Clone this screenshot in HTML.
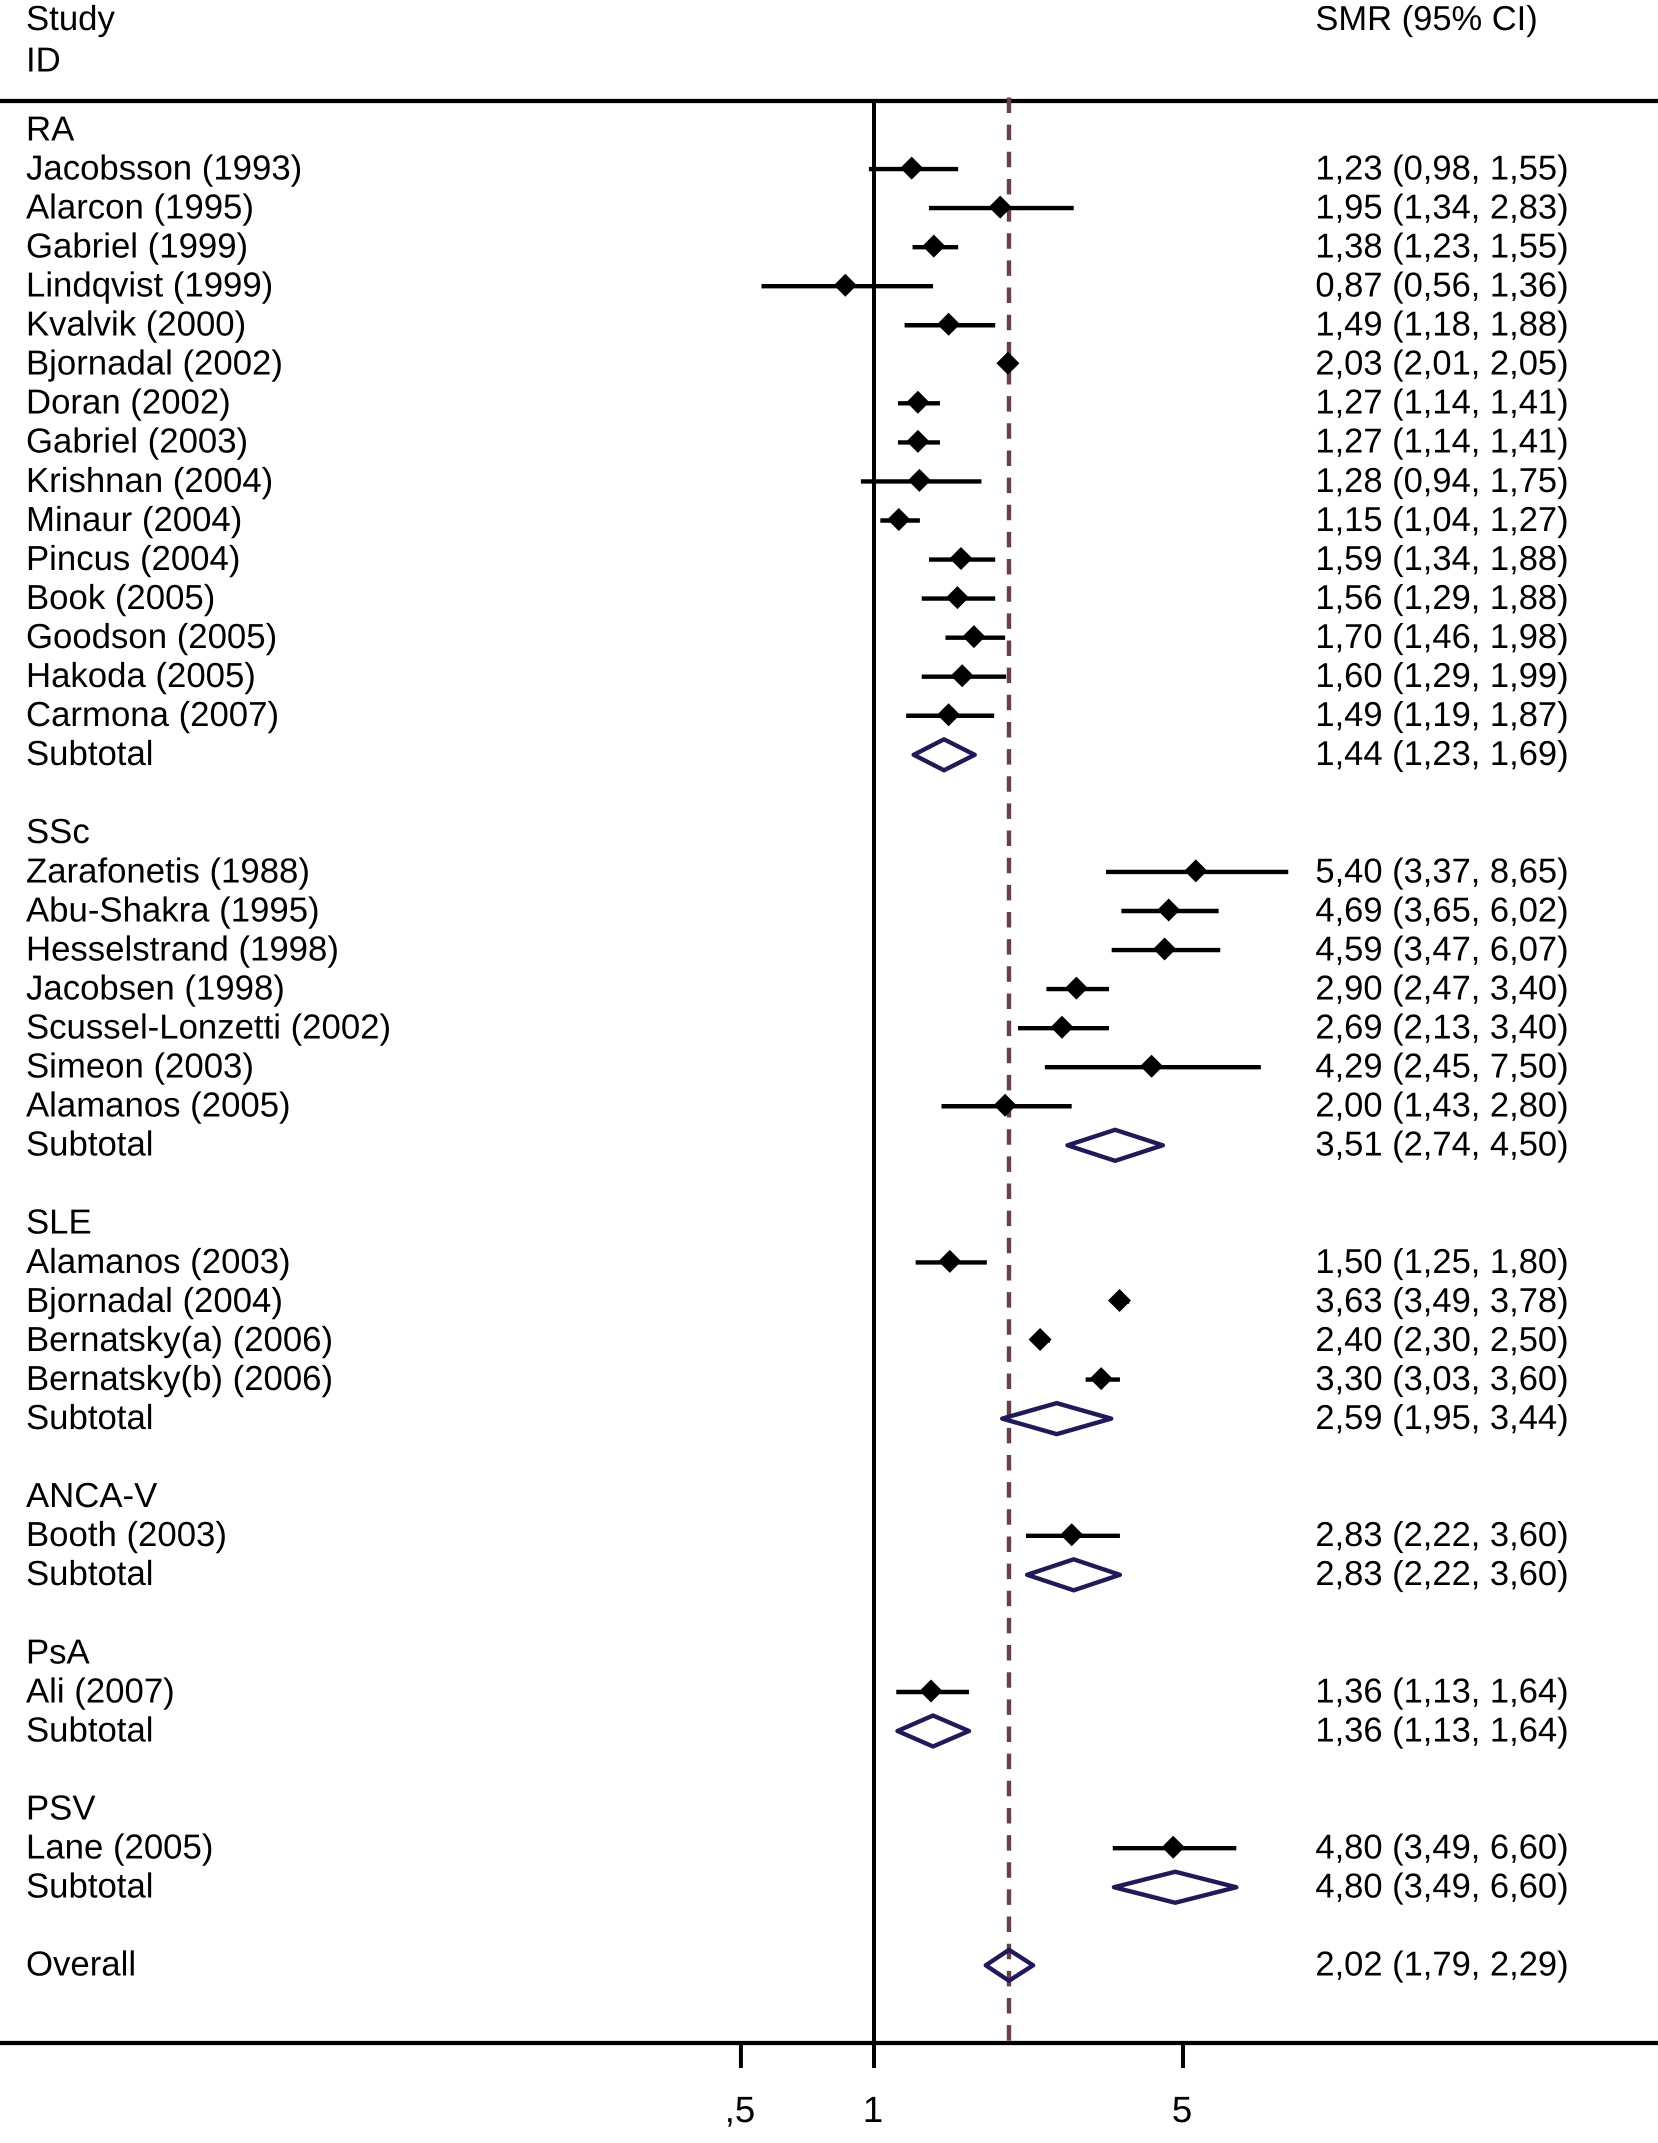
<!DOCTYPE html>
<html lang="en">
<head>
<meta charset="utf-8">
<title>Forest plot of SMR by disease group</title>
<style>
html,body{margin:0;padding:0;background:#fff;}
svg{display:block;}
text{font-family:"Liberation Sans",Arial,Helvetica,sans-serif;font-size:34.5px;fill:#000;text-rendering:geometricPrecision;}
text.left{font-size:34.75px;}
text.tick{font-size:36.5px;}
</style>
</head>
<body>
<svg id="chart" xmlns="http://www.w3.org/2000/svg" width="1658" height="2143" viewBox="0 0 1658 2143">
  <rect x="0" y="0" width="1658" height="2143" fill="#ffffff"/>
  <text class="left" x="26" y="30">Study</text>
  <text class="left" x="26" y="71.5">ID</text>
  <text x="1315.4" y="30">SMR (95% CI)</text>
  <line x1="0" x2="1658" y1="101" y2="101" stroke="#000" stroke-width="4.2"/>
  <line x1="0" x2="1658" y1="2043" y2="2043" stroke="#000" stroke-width="4.2"/>
  <g id="marks"></g>
</svg>
<script>
const groupNames = ['RA', 'SSc', 'SLE', 'ANCA-V', 'PsA', 'PSV'];
const studyGroups = [
  0,0,0,0,0,0,0,0,0,0,0,0,0,0,0,
  1,1,1,1,1,1,1,
  2,2,2,2,
  3,
  4,
  5
];
const studyNames = [
  'Jacobsson (1993)','Alarcon (1995)','Gabriel (1999)','Lindqvist (1999)','Kvalvik (2000)',
  'Bjornadal (2002)','Doran (2002)','Gabriel (2003)','Krishnan (2004)','Minaur (2004)',
  'Pincus (2004)','Book (2005)','Goodson (2005)','Hakoda (2005)','Carmona (2007)',
  'Zarafonetis (1988)','Abu-Shakra (1995)','Hesselstrand (1998)','Jacobsen (1998)',
  'Scussel-Lonzetti (2002)','Simeon (2003)','Alamanos (2005)',
  'Alamanos (2003)','Bjornadal (2004)','Bernatsky(a) (2006)','Bernatsky(b) (2006)',
  'Booth (2003)',
  'Ali (2007)',
  'Lane (2005)'
];
const studySMR = [
  1.23,1.95,1.38,0.87,1.49,2.03,1.27,1.27,1.28,1.15,1.59,1.56,1.70,1.60,1.49,
  5.40,4.69,4.59,2.90,2.69,4.29,2.00,
  1.50,3.63,2.40,3.30,
  2.83,
  1.36,
  4.80
];
const studyLower = [
  0.98,1.34,1.23,0.56,1.18,2.01,1.14,1.14,0.94,1.04,1.34,1.29,1.46,1.29,1.19,
  3.37,3.65,3.47,2.47,2.13,2.45,1.43,
  1.25,3.49,2.30,3.03,
  2.22,
  1.13,
  3.49
];
const studyUpper = [
  1.55,2.83,1.55,1.36,1.88,2.05,1.41,1.41,1.75,1.27,1.88,1.88,1.98,1.99,1.87,
  8.65,6.02,6.07,3.40,3.40,7.50,2.80,
  1.80,3.78,2.50,3.60,
  3.60,
  1.64,
  6.60
];
const subtotalSMR = [1.44, 3.51, 2.59, 2.83, 1.36, 4.80];
const subtotalLower = [1.23, 2.74, 1.95, 2.22, 1.13, 3.49];
const subtotalUpper = [1.69, 4.50, 3.44, 3.60, 1.64, 6.60];
const overallSMR = [2.02];
const overallLower = [1.79];
const overallUpper = [2.29];
const referenceValue = [1];
const tickValues = [0.5, 1, 5];
const tickLabels = [',5', '1', '5'];

const NS = 'http://www.w3.org/2000/svg';
const root = document.getElementById('marks');
const X_ONE = 874, X_SCALE = 192, Y_FIRST = 130, ROW = 39.05;
const xAxis = v => X_ONE + Math.log(v) * X_SCALE;
const yAxis = r => Y_FIRST + r * ROW;
const fmt = v => v.toFixed(2).replace('.', ',');
const ciText = (e, l, u) => fmt(e) + ' (' + fmt(l) + ', ' + fmt(u) + ')';

function add(tag, attrs, txt) {
  const el = document.createElementNS(NS, tag);
  for (const k in attrs) el.setAttribute(k, attrs[k]);
  if (txt !== undefined) el.textContent = txt;
  root.appendChild(el);
  return el;
}
function rowText(x, r, txt, cls) {
  const el = add('text', { x: x, y: (yAxis(r) + 10.3).toFixed(2) }, txt);
  if (cls) el.setAttribute('class', cls);
  return el;
}
function summaryDiamond(e, l, u, r) {
  const y = yAxis(r);
  const pts = [
    [xAxis(l), y], [xAxis(e), y - 15.5], [xAxis(u), y], [xAxis(e), y + 15.5]
  ].map(p => p[0].toFixed(1) + ',' + p[1].toFixed(1)).join(' ');
  return add('polygon', { points: pts, fill: 'none', stroke: '#1f1a5c', 'stroke-width': 4.4, 'stroke-linejoin': 'round' });
}

// no-effect reference line and its ticks
const refLine = add('line', { x1: xAxis(referenceValue[0]), x2: xAxis(referenceValue[0]), y1: 101, y2: 2043, stroke: '#000', 'stroke-width': 4 });



tickValues.forEach((v, i) => {
  const tick = add('line', { x1: xAxis(v), x2: xAxis(v), y1: 2043, y2: 2068, stroke: '#000', 'stroke-width': 4 });
  
  
  const label = add('text', { x: xAxis(v) - 1, y: 2122, 'text-anchor': 'middle', 'class': 'tick' }, tickLabels[i]);
  
  
});

// overall dashed line
const overallLine = add('line', { x1: xAxis(overallSMR[0]), x2: xAxis(overallSMR[0]), y1: 97.5, y2: 2043, stroke: '#6b3f48', 'stroke-width': 4.4, 'stroke-dasharray': '15.5 11.65' });



// rows, walked group by group
let row = 0;
groupNames.forEach((g, gi) => {
  const heading = rowText(26, row, g, 'left');
  
  
  row++;
  studyNames.forEach((name, i) => {
    if (studyGroups[i] !== gi) return;
    const y = yAxis(row);
    const label = rowText(26, row, name, 'left');
    
    
    const value = rowText(1315.4, row, ciText(studySMR[i], studyLower[i], studyUpper[i]));
    
    
    const ci = add('line', { x1: xAxis(studyLower[i]) - 1.2, x2: xAxis(studyUpper[i]), y1: y, y2: y, stroke: '#000', 'stroke-width': 4.4 });
    
    
    const cx = xAxis(studySMR[i]) - 2;
    const cy = y - 1;
    const point = add('polygon', { points: [cx - 11.5, cy, cx, cy - 11.5, cx + 11.5, cy, cx, cy + 11.5].map(n => n.toFixed(1)).join(' '), fill: '#000' });
    
    
    row++;
  });
  const subLabel = rowText(26, row, 'Subtotal', 'left');
  
  
  const subValue = rowText(1315.4, row, ciText(subtotalSMR[gi], subtotalLower[gi], subtotalUpper[gi]));
  
  
  const subDiamond = summaryDiamond(subtotalSMR[gi], subtotalLower[gi], subtotalUpper[gi], row);
  
  
  row += 2;
});

const overallLabel = rowText(26, row, 'Overall', 'left');


const overallValue = rowText(1315.4, row, ciText(overallSMR[0], overallLower[0], overallUpper[0]));


const overallDiamond = summaryDiamond(overallSMR[0], overallLower[0], overallUpper[0], row);


</script>
</body>
</html>
